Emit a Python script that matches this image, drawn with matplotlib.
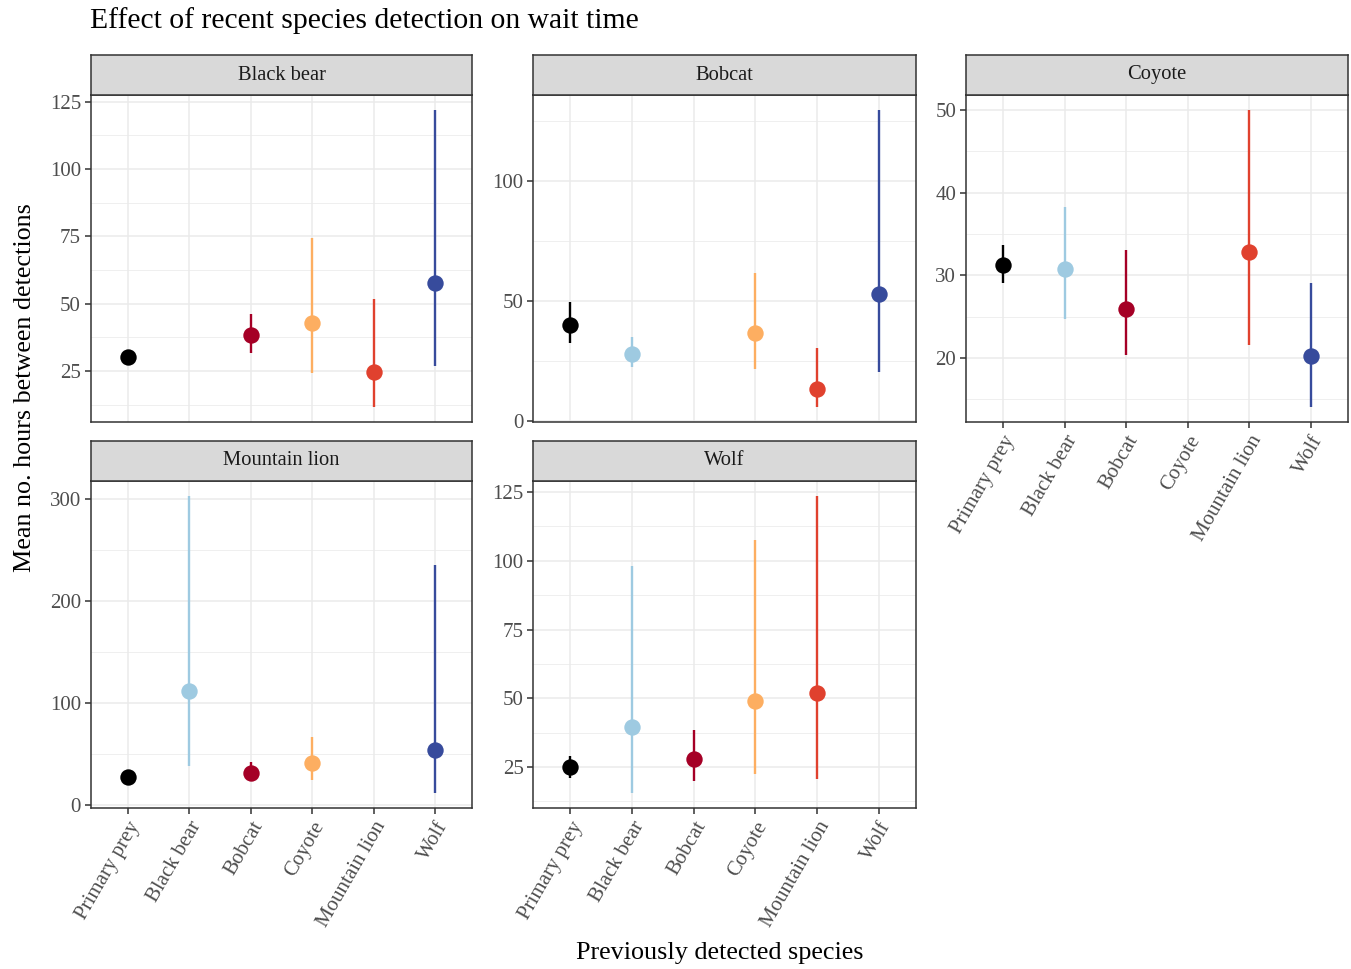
import numpy as np
import matplotlib
matplotlib.use("Agg")
import matplotlib.pyplot as plt

plt.rcParams["font.family"] = ["Liberation Serif", "DejaVu Serif"]

# ── Data ─────────────────────────────────────────────────────────────────────
SPECIES = ["Primary prey", "Black bear", "Bobcat", "Coyote", "Mountain lion", "Wolf"]
COLORS = ["#000000", "#9ECAE1", "#A50026", "#FDAE61", "#E0412E", "#374B9C"]
PANELS = ["Black bear", "Bobcat", "Coyote", "Mountain lion", "Wolf"]
nan = np.nan

# mean and interval per previously detected species (nan = not estimated)
bb_mean = [30.3, nan, 38.3, 43.0, 24.6, 57.6]
bb_low = [28.6, nan, 31.8, 24.3, 11.5, 26.8]
bb_high = [32.0, nan, 46.2, 74.5, 51.6, 121.9]

bc_mean = [40.2, 28.0, nan, 36.6, 13.5, 52.9]
bc_low = [32.5, 22.4, nan, 21.7, 5.7, 20.3]
bc_high = [49.6, 35.1, nan, 61.9, 30.5, 129.7]

co_mean = [31.2, 30.7, 25.9, nan, 32.8, 20.2]
co_low = [29.0, 24.7, 20.4, nan, 21.6, 14.0]
co_high = [33.6, 38.2, 33.0, nan, 50.0, 29.1]

ml_mean = [27.1, 111.7, 31.3, 40.5, nan, 53.5]
ml_low = [21.0, 38.2, 26.0, 24.2, nan, 11.0]
ml_high = [32.0, 303.3, 42.1, 66.3, nan, 235.1]

wo_mean = [24.9, 39.6, 27.8, 49.1, 52.0, nan]
wo_low = [21.1, 15.4, 19.8, 22.3, 20.5, nan]
wo_high = [29.0, 98.0, 38.6, 107.6, 123.7, nan]

bb_ticks = [25, 50, 75, 100, 125]
bc_ticks = [0, 50, 100]
co_ticks = [20, 30, 40, 50]
ml_ticks = [0, 100, 200, 300]
wo_ticks = [25, 50, 75, 100, 125]

# ── Layout (pixel boxes: left, top, right, bottom) ───────────────────────────
W, H = 1351, 969
BOXES = [
    (90.7, 95, 472.3, 422.3),
    (533.3, 95, 915.7, 422.3),
    (966, 95, 1347.7, 422.3),
    (90.7, 480.7, 472.3, 808.3),
    (533.3, 480.7, 915.7, 808.3),
]
SHOW_X = [False, False, True, True, True]
STRIP_H = 40

GRID = "#EBEBEB"
DARK = "#333333"
TXT = "#4D4D4D"

fig = plt.figure(figsize=(W / 100, H / 100), dpi=100, facecolor="white")


def px_axes(l, t, r, b):
    return fig.add_axes([l / W, 1 - b / H, (r - l) / W, (b - t) / H])


panel_data = [
    (bb_mean, bb_low, bb_high, bb_ticks),
    (bc_mean, bc_low, bc_high, bc_ticks),
    (co_mean, co_low, co_high, co_ticks),
    (ml_mean, ml_low, ml_high, ml_ticks),
    (wo_mean, wo_low, wo_high, wo_ticks),
]

x = np.arange(len(SPECIES))

for name, box, show_x, (mean, low, high, ticks) in zip(PANELS, BOXES, SHOW_X, panel_data):
    l, t, r, b = box
    ax = px_axes(l, t, r, b)
    mean, low, high = np.array(mean), np.array(low), np.array(high)

    for i in range(len(SPECIES)):
        if np.isnan(mean[i]):
            continue
        ax.vlines(x[i], low[i], high[i], color=COLORS[i], lw=1.7, zorder=3)
        ax.plot(x[i], mean[i], "o", ms=11.8, color=COLORS[i], mec="none", zorder=4)

    step = ticks[1] - ticks[0]
    minor = [v - step / 2 for v in ticks] + [ticks[-1] + step / 2]
    ax.set_yticks(ticks)
    ax.set_yticks(minor, minor=True)
    ax.set_xticks(x)

    # ggplot-style 5% expansion of the data range
    lo, hi = np.nanmin(low), np.nanmax(high)
    pad = 0.05 * (hi - lo)
    ax.set_ylim(lo - pad, hi + pad)
    ax.set_xlim(-0.6, len(SPECIES) - 0.4)

    ax.grid(True, which="major", color=GRID, lw=1.1, zorder=0)
    ax.grid(True, which="minor", axis="y", color=GRID, lw=0.55, zorder=0)
    ax.set_axisbelow(True)

    for sp in ax.spines.values():
        sp.set_color(DARK)
        sp.set_linewidth(1.1)

    ax.tick_params(axis="y", which="major", length=4, width=1.1, color=DARK,
                   labelsize=15, labelcolor=TXT, pad=3)
    ax.tick_params(axis="y", which="minor", length=0)
    if show_x:
        ax.set_xticklabels(SPECIES, rotation=60, ha="right", va="top",
                           rotation_mode="anchor")
        ax.tick_params(axis="x", length=4, width=1.1, color=DARK,
                       labelsize=15, labelcolor=TXT, pad=3)
    else:
        ax.tick_params(axis="x", length=0, labelbottom=False)

    # facet strip
    sax = px_axes(l, t - STRIP_H, r, t)
    sax.set_facecolor("#D9D9D9")
    sax.set_xticks([])
    sax.set_yticks([])
    for sp in sax.spines.values():
        sp.set_color(DARK)
        sp.set_linewidth(1.1)
    sax.text(0.5, 0.5, name, ha="center", va="center", fontsize=14.8,
             color="#1A1A1A", transform=sax.transAxes)

# ── Titles ───────────────────────────────────────────────────────────────────
fig.text(90 / W, 1 - 21 / H, "Effect of recent species detection on wait time",
         ha="left", va="center", fontsize=21.3, color="black")
fig.text(720 / W, 1 - 953 / H, "Previously detected species",
         ha="center", va="center", fontsize=18.8, color="black")
fig.text(25 / W, 1 - 388 / H, "Mean no. hours between detections",
         ha="center", va="center", rotation=90, fontsize=18.8, color="black")

fig.savefig("out.png", dpi=100, facecolor="white")
